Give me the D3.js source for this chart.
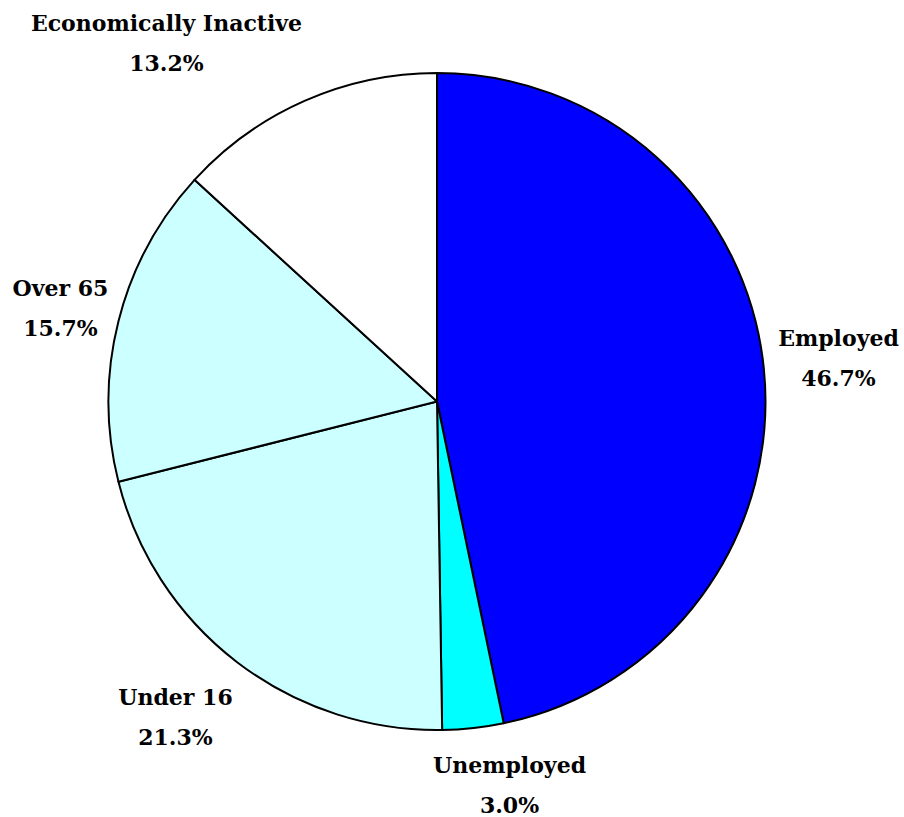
<!DOCTYPE html>
<html>
<head>
<meta charset="utf-8">
<script src="https://cdn.jsdelivr.net/npm/d3@7/dist/d3.min.js"></script>
<style>
  html, body { margin: 0; padding: 0; background: #ffffff; }
  svg { display: block; }
  text { font-family: "DejaVu Serif", "Liberation Serif", serif; font-weight: bold; fill: #000; }
</style>
</head>
<body>
<svg id="chart" width="904" height="817"></svg>
<script>
// Population breakdown by economic status (percent)
const categories = ["Employed", "Unemployed", "Under 16", "Over 65", "Economically Inactive"];
const shares = [46.7, 3.0, 21.3, 15.7, 13.2];
const fills = ["#0000ff", "#00ffff", "#ccffff", "#ccffff", "#ffffff"];

// Label anchor points (centre / baseline of the name line) for each slice
const labelX = [838.5, 509.5, 175.5, 60.5, 166.5];
const labelY = [346, 773, 705, 296, 31];

const cx = 437, cy = 401.5, radius = 328.5;

const svg = d3.select("#chart");
const g = svg.append("g").attr("transform", `translate(${cx},${cy})`);

const data = categories.map((c, i) => ({ name: c, value: shares[i], fill: fills[i], i }));

const pie = d3.pie().sort(null).value(d => d.value);
const arc = d3.arc().innerRadius(0).outerRadius(radius);

g.selectAll("path.slice")
  .data(pie(data))
  .join("path")
  .attr("class", "slice")
  .attr("d", arc)
  .attr("fill", d => d.data.fill)
  .attr("stroke", "#000")
  .attr("stroke-width", 2)
  .attr("stroke-linejoin", "round");

const labels = svg.selectAll("g.label")
  .data(data)
  .join("g")
  .attr("class", "label")
  .attr("transform", d => `translate(${labelX[d.i]},${labelY[d.i]})`);

labels.append("text")
  .attr("text-anchor", "middle")
  .attr("font-size", 22)
  .text(d => d.name);

labels.append("text")
  .attr("text-anchor", "middle")
  .attr("font-size", 22)
  .attr("y", 40)
  .text(d => d.value.toFixed(1) + "%");
</script>
</body>
</html>
